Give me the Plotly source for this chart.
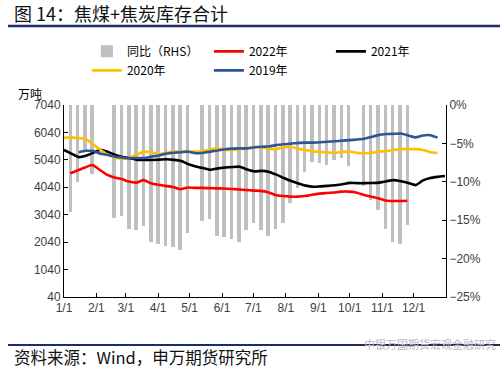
import plotly.graph_objects as go
import pandas as pd

# ---------------- data ----------------
bar_dates = ["2022-01-07", "2022-01-14", "2022-01-21", "2022-01-28",
             "2022-02-18", "2022-02-25", "2022-03-04", "2022-03-11", "2022-03-18", "2022-03-25",
             "2022-04-01", "2022-04-08", "2022-04-15", "2022-04-22", "2022-04-29",
             "2022-05-13", "2022-05-20", "2022-05-27", "2022-06-03", "2022-06-10", "2022-06-17", "2022-06-24",
             "2022-07-01", "2022-07-08", "2022-07-15", "2022-07-22", "2022-07-29",
             "2022-08-05", "2022-08-12", "2022-08-19", "2022-08-26",
             "2022-09-02", "2022-09-09", "2022-09-16", "2022-09-23", "2022-09-30",
             "2022-10-14", "2022-10-21", "2022-10-28",
             "2022-11-04", "2022-11-11", "2022-11-18", "2022-11-25"]
yoy_pct = [-13.9, -10.0, -6.0, -9.0,
           -14.7, -14.4, -16.1, -16.3, -15.8, -17.9,
           -18.1, -18.4, -18.5, -18.9, -16.7,
           -15.1, -14.9, -17.0, -17.2, -17.4, -17.9, -16.3,
           -15.4, -16.3, -17.1, -16.1, -15.4,
           -12.8, -10.8, -8.7, -7.4,
           -7.6, -7.8, -7.2, -6.9, -8.0,
           -10.6, -12.4, -13.7,
           -16.2, -17.8, -18.1, -15.6]

dates_2022 = [d.strftime("%Y-%m-%d") for d in pd.date_range("2022-01-07", "2022-11-25", freq="7D")]
stock_2022 = [4550, 4650, 4760, 4850, 4680, 4500, 4400, 4340, 4250, 4210, 4300, 4190,
              4130, 4090, 4050, 3970, 4030, 4020, 4020, 4010, 4000, 3995, 3980, 3965,
              3940, 3920, 3910, 3860, 3760, 3720, 3700, 3700, 3720, 3770, 3810, 3830,
              3850, 3880, 3880, 3850, 3770, 3700, 3640, 3560, 3540, 3540, 3550]

dates_prev = [d.strftime("%Y-%m-%d") for d in pd.date_range("2022-01-01", "2022-12-31", freq="7D")]
stock_2021 = [5400, 5270, 5140, 5190, 5300, 5410, 5330, 5220, 5140, 5100, 5040, 5035,
              5035, 5050, 5060, 5040, 5000, 4880, 4800, 4740, 4680, 4730, 4760, 4780,
              4790, 4690, 4620, 4640, 4600, 4500, 4380, 4270, 4180, 4100, 4060, 4075,
              4090, 4115, 4150, 4200, 4190, 4190, 4195, 4210, 4260, 4300, 4260, 4200,
              4120, 4290, 4380, 4420, 4450]
stock_2020 = [5840, 5860, 5830, 5790, 5600, 5400, 5220, 5120, 5080, 5120, 5240, 5340,
              5310, 5250, 5300, 5340, 5340, 5340, 5340, 5360, 5420, 5460, 5410, 5400,
              5425, 5460, 5510, 5490, 5450, 5430, 5500, 5510, 5440, 5400, 5350, 5330,
              5310, 5300, 5330, 5350, 5300, 5280, 5300, 5340, 5360, 5400, 5430, 5430,
              5430, 5400, 5320, 5290, None]
stock_2019 = [None, None, 5320, 5370, 5360, 5260, 5220, 5150, 5120, 5100, 5110, 5110,
              5160, 5200, 5270, 5300, 5320, 5338, 5280, 5300, 5340, 5380, 5425, 5450,
              5460, 5460, 5500, 5520, 5530, 5580, 5610, 5630, 5660, 5670, 5670, 5680,
              5700, 5720, 5740, 5760, 5780, 5810, 5880, 5950, 5980, 5990, 6000, 5930,
              5860, 5930, 5940, 5850, None]

tick_dates = ["2022-%02d-01" % m for m in range(1, 13)]
tick_labels = ["1/1", "2/1", "3/1", "4/1", "5/1", "6/1", "7/1", "8/1", "9/1", "10/1", "11/1", "12/1"]
left_ticks = [40, 1040, 2040, 3040, 4040, 5040, 6040, 7040]
right_ticks = [0, -5, -10, -15, -20, -25]
right_labels = ["0%", "\u22125%", "\u221210%", "\u221215%", "\u221220%", "\u221225%"]

# ---------------- figure ----------------
CJK = "Noto Sans CJK SC"
fig = go.Figure()

fig.add_trace(go.Bar(x=bar_dates, y=yoy_pct, name="同比（RHS）", yaxis="y",
                     marker=dict(color="#BFBFBF", line=dict(width=0)),
                     width=3.4 * 86400000))

line_specs = [("2022年", dates_2022, stock_2022, "#FF0000"),
              ("2021年", dates_prev, stock_2021, "#000000"),
              ("2020年", dates_prev, stock_2020, "#FFC000"),
              ("2019年", dates_prev, stock_2019, "#2F5597")]
for name, xs, ys, col in line_specs:
    fig.add_trace(go.Scatter(x=xs, y=ys, name=name, yaxis="y2", mode="lines",
                             line=dict(color=col, width=2.6, shape="spline", smoothing=0.5),
                             connectgaps=False))

axis_font = dict(family="Liberation Sans, Arial", size=12, color="#404040")

fig.update_layout(
    width=500, height=368,
    margin=dict(l=64, r=54, t=105, b=71),
    paper_bgcolor="white", plot_bgcolor="white",
    showlegend=True,
    legend=dict(orientation="h", x=0.06, xanchor="left", y=1.355, yanchor="top",
                entrywidth=77, entrywidthmode="pixels", tracegroupgap=0,
                font=dict(family=CJK, size=12, color="#000000"),
                bgcolor="rgba(0,0,0,0)", itemwidth=30),
    xaxis=dict(type="date", range=["2022-01-01", "2023-01-01"],
               tickvals=tick_dates, ticktext=tick_labels,
               ticks="inside", ticklen=4, tickcolor="#000000",
               showline=True, linecolor="#000000", linewidth=1,
               showgrid=False, zeroline=False, tickfont=axis_font),
    yaxis=dict(side="right", range=[-25, 0], tickvals=right_ticks, ticktext=right_labels,
               ticks="inside", ticklen=4, tickcolor="#000000",
               showline=True, linecolor="#000000", linewidth=1,
               showgrid=False, zeroline=False, tickfont=axis_font),
    yaxis2=dict(side="left", overlaying="y", range=[40, 7040], tickvals=left_ticks,
                ticks="inside", ticklen=4, tickcolor="#000000",
                showline=True, linecolor="#000000", linewidth=1,
                showgrid=False, zeroline=False, tickfont=axis_font),
    bargap=0,
)

# title, unit, source, decorative rules
fig.add_annotation(text="图 14：焦煤+焦炭库存合计", xref="paper", yref="paper",
                   x=(12 - 64) / 382, y=(297 - 13) / 192, xanchor="left", yanchor="middle",
                   showarrow=False, font=dict(family=CJK, size=18, color="#111111"))
fig.add_annotation(text="万吨", xref="paper", yref="paper",
                   x=(16 - 64) / 382, y=(297 - 93) / 192, xanchor="left", yanchor="middle",
                   showarrow=False, font=dict(family=CJK, size=12, color="#000000"))
fig.add_annotation(text="资料来源：Wind，申万期货研究所", xref="paper", yref="paper",
                   x=(12 - 64) / 382, y=(297 - 357) / 192, xanchor="left", yanchor="middle",
                   showarrow=False, font=dict(family=CJK, size=16.5, color="#111111"))
fig.add_annotation(text="中银万国期货宏观金融研究", xref="paper", yref="paper",
                   x=(498 - 64) / 382, y=(297 - 344) / 192, xanchor="right", yanchor="middle",
                   showarrow=False, font=dict(family=CJK, size=11, color="#B8B8B8"))
fig.add_shape(type="line", xref="paper", yref="paper",
              x0=(8 - 64) / 382, x1=(500 - 64) / 382, y0=(297 - 26) / 192, y1=(297 - 26) / 192,
              line=dict(color="#1F2A6B", width=2.5))
fig.add_shape(type="line", xref="paper", yref="paper",
              x0=(8 - 64) / 382, x1=(500 - 64) / 382, y0=(297 - 345) / 192, y1=(297 - 345) / 192,
              line=dict(color="#1F2A6B", width=2), layer="below")

fig.write_html("out.html", config={"displayModeBar": False},
               post_script="document.body.style.margin='0';")
